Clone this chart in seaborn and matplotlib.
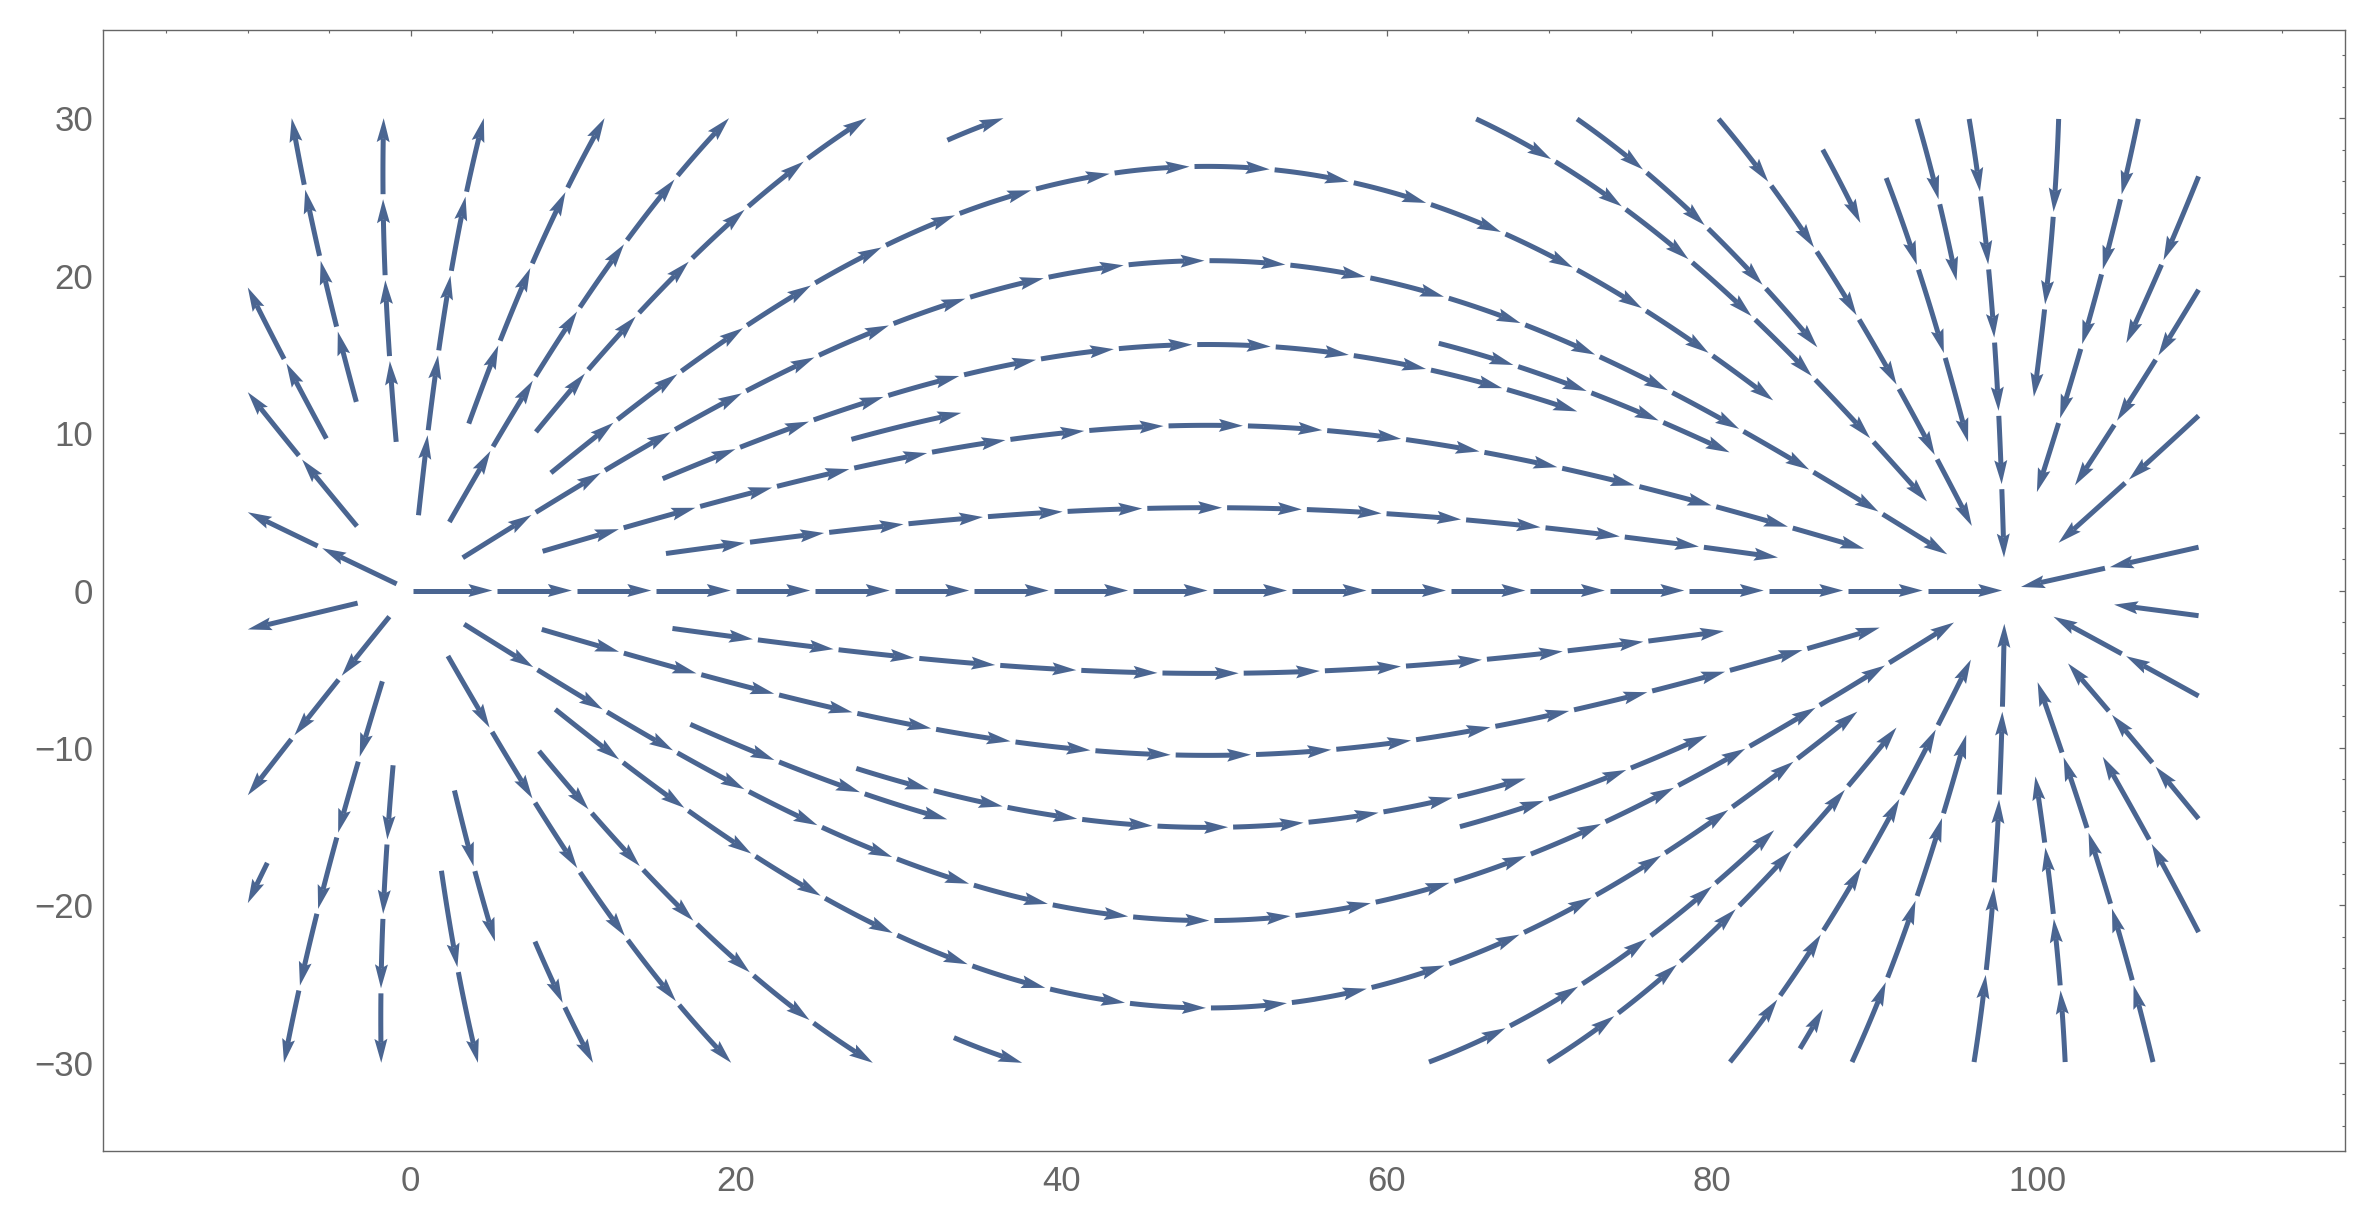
import numpy as np
import matplotlib
matplotlib.use("Agg")
import matplotlib.pyplot as plt
import seaborn as sns
from matplotlib.collections import LineCollection, PolyCollection

# ---------------- data ----------------
# point charges of the field (source at left, sink at right)
CHARGE_X = [0.0, 98.0]
CHARGE_Y = [0.0, 0.0]
CHARGE_Q = [1.0, -1.0]

# region in which stream lines live
REGION_X = (-10.0, 110.0)
REGION_Y = (-30.0, 30.0)

# stream lines: start point (tail) and end point (head); NaN head = runs to region edge
TAIL_X = [0.15, -0.85, -3.29, -5.17, -3.33, -0.88, 0.49, 3.58, 2.39, 7.71,
          3.21, 8.63, 8.12, 15.7, 15.5, 27.1, 33.0, 63.2,
          65.5, 71.7, 80.4, 86.8, 90.7, 92.6, 95.8, 101.3, 106.2,
          109.9, 109.9, 109.9, 109.9,
          -3.25, -1.3, -1.73, -8.8, -1.07, 2.3, 2.7, 1.9, 7.9, 7.65,
          8.9, 3.3, 8.07, 16.1, 17.2, 27.4, 33.4,
          64.5, 62.6, 69.9, 81.1, 85.4, 88.6, 96.1, 101.7, 107.1,
          109.9, 109.9, 109.9, 109.9]
TAIL_Y = [0.0, 0.42, 4.08, 9.65, 11.98, 9.44, 4.78, 10.6, 4.35, 10.07,
          2.08, 7.47, 2.49, 2.35, 7.1, 9.6, 28.6, 15.7,
          29.95, 29.95, 29.95, 28.0, 26.2, 29.95, 29.95, 29.95, 29.95,
          26.3, 19.1, 11.1, 2.75,
          -0.8, -1.66, -5.77, -17.3, -11.1, -4.16, -12.7, -17.8, -10.2, -22.3,
          -7.55, -2.14, -2.47, -2.41, -8.5, -11.3, -28.4,
          -15.0, -29.95, -29.95, -29.95, -29.1, -29.95, -29.95, -29.95, -29.95,
          -1.6, -6.7, -14.5, -21.7]
NAN = float("nan")
HEAD_X = [98.0, NAN, NAN, NAN, NAN, NAN, NAN, NAN, NAN, NAN,
          94.4, 84.1, 89.4, 84.1, 70.9, 33.5, NAN, 80.4,
          92.9, 86.4, 96.0, 88.8, 95.6, 95.1, 97.8, 99.8, 100.1,
          105.5, 102.4, 101.3, 99.0,
          NAN, NAN, NAN, NAN, NAN, NAN, 5.6, NAN, NAN, NAN,
          89.2, 95.0, 90.4, 80.8, 32.8, 68.1, NAN,
          79.0, 83.4, 91.6, 95.9, 86.1, 95.7, 97.8, 99.9, 100.1,
          104.7, 101.0, 101.9, 104.1]
HEAD_Y = [0.0, NAN, NAN, NAN, NAN, NAN, NAN, NAN, NAN, NAN,
          2.2, 12.5, 2.76, 2.55, 9.0, 13.0, NAN, 7.4,
          5.4, 15.4, 4.1, 23.2, 9.4, 19.7, 2.1, 12.3, 6.2,
          15.7, 6.6, 3.0, 0.2,
          NAN, NAN, NAN, NAN, NAN, NAN, -22.2, NAN, NAN, NAN,
          -8.0, -2.2, -2.65, -3.1, -15.2, -10.4, NAN,
          -7.7, -14.8, -8.9, -4.4, -26.2, -9.2, -2.1, -11.8, -5.8,
          -0.9, -1.66, -4.6, -10.5]

X_TICKS = [0, 20, 40, 60, 80, 100]
Y_TICKS = [-30, -20, -10, 0, 10, 20, 30]

# ---------------- style ----------------
W_PX, H_PX, DPI = 2368, 1215, 100
XLIM = (-18.9, 118.9)
YLIM = (-35.6, 35.6)
AX_RECT = [103 / W_PX, (H_PX - 1151) / H_PX, (2345 - 103) / W_PX, (1151 - 30) / H_PX]
LINE_COLOR = "#4a6591"
FRAME_COLOR = "#666666"
ARROW_PX = 80.0      # length of one arrow segment (pixels)
GAP_PX = 5.0
HEAD_LEN = 24.0
HEAD_HW = 6.5
NOTCH = 4.0
BODY_LW_PT = 3.6

sns.set_theme(style="white")
plt.rcParams["font.family"] = ["Liberation Sans", "DejaVu Sans"]

fig = plt.figure(figsize=(W_PX / DPI, H_PX / DPI), dpi=DPI)
ax = fig.add_axes(AX_RECT)
ax.set_xlim(*XLIM)
ax.set_ylim(*YLIM)

sx = AX_RECT[2] * W_PX / (XLIM[1] - XLIM[0])
sy = AX_RECT[3] * H_PX / (YLIM[1] - YLIM[0])

cx = np.array(CHARGE_X)
cy = np.array(CHARGE_Y)
cq = np.array(CHARGE_Q)


def direction(p):
    dx = p[0] - cx
    dy = p[1] - cy
    r3 = (dx * dx + dy * dy) ** 1.5
    e = np.array([np.sum(cq * dx / r3), np.sum(cq * dy / r3)])
    n = np.hypot(e[0], e[1])
    return e / n if n > 0 else e


def outside(q):
    return (q[0] < REGION_X[0] or q[0] > REGION_X[1] or
            q[1] < REGION_Y[0] or q[1] > REGION_Y[1])


def clip_to_region(p, q):
    t = 1.0
    for k, (lo, hi) in enumerate((REGION_X, REGION_Y)):
        d = q[k] - p[k]
        if q[k] < lo and d != 0:
            t = min(t, (lo - p[k]) / d)
        if q[k] > hi and d != 0:
            t = min(t, (hi - p[k]) / d)
    return p + t * (q - p)


def trace(x0, y0, hx, hy, h=0.04, nmax=12000):
    p = np.array([x0, y0], float)
    pts = [p.copy()]
    has_head = not (np.isnan(hx) or np.isnan(hy))
    head = np.array([hx, hy]) if has_head else None
    dmin = np.inf
    sinks = [(x, y) for x, y, q in zip(cx, cy, cq) if q < 0]
    for _ in range(nmax):
        k1 = direction(p)
        k2 = direction(p + 0.5 * h * k1)
        k3 = direction(p + 0.5 * h * k2)
        k4 = direction(p + h * k3)
        q = p + h / 6.0 * (k1 + 2 * k2 + 2 * k3 + k4)
        if outside(q):
            pts.append(clip_to_region(p, q))
            break
        if any(np.hypot(q[0] - sx_, q[1] - sy_) < 0.2 for sx_, sy_ in sinks):
            pts.append(q)
            break
        if has_head:
            d = np.hypot(*(q - head))
            if d < dmin:
                dmin = d
            elif dmin < 5.0:
                break
        pts.append(q)
        p = q
    return np.array(pts)


def to_px(pts):
    return np.column_stack([(pts[:, 0] - XLIM[0]) * sx, (pts[:, 1] - YLIM[0]) * sy])


def to_data(pts):
    pts = np.asarray(pts)
    return np.column_stack([pts[:, 0] / sx + XLIM[0], pts[:, 1] / sy + YLIM[0]])


bodies, heads = [], []
for x0, y0, hx, hy in zip(TAIL_X, TAIL_Y, HEAD_X, HEAD_Y):
    line = trace(x0, y0, hx, hy)
    if len(line) < 3:
        continue
    P = to_px(line)
    s = np.concatenate([[0], np.cumsum(np.hypot(*np.diff(P, axis=0).T))])
    total = s[-1]
    n = max(1, int(round(total / ARROW_PX)))
    L = total / n

    def at(v):
        return np.array([np.interp(v, s, P[:, 0]), np.interp(v, s, P[:, 1])])

    for k in range(n):
        a = k * L + (GAP_PX if k > 0 else 0.0)
        b = (k + 1) * L
        hl = min(HEAD_LEN, 0.8 * (b - a))
        tip = at(b)
        base = at(b - hl)
        u = tip - base
        nu = np.hypot(*u)
        if nu == 0:
            continue
        u /= nu
        nrm = np.array([-u[1], u[0]])
        body_end = b - hl + NOTCH
        if body_end > a:
            inner = s[(s > a) & (s < body_end)]
            seg = [at(a)] + [at(v) for v in inner] + [at(body_end)]
            bodies.append(to_data(seg))
        poly = [tip, base + nrm * HEAD_HW, base + u * NOTCH, base - nrm * HEAD_HW]
        heads.append(to_data(poly))

ax.add_collection(LineCollection(bodies, colors=LINE_COLOR, linewidths=BODY_LW_PT,
                                 capstyle="butt", joinstyle="round", zorder=2))
ax.add_collection(PolyCollection(heads, facecolors=LINE_COLOR, edgecolors="none", zorder=3))

# ---------------- axes / frame ----------------
ax.set_xticks(X_TICKS)
ax.set_xticks(np.arange(-15, 120, 5), minor=True)
ax.set_yticks(Y_TICKS)
ax.set_yticks(np.arange(-34, 36, 2), minor=True)
ax.set_xticklabels([str(v) for v in X_TICKS])
ax.set_yticklabels([str(v).replace("-", "\u2212") for v in Y_TICKS])
ax.tick_params(which="both", direction="in", top=True, right=True,
               color=FRAME_COLOR, labelcolor=FRAME_COLOR)
ax.tick_params(which="major", length=4.2, width=0.9, labelsize=25)
ax.tick_params(which="minor", length=2.4, width=0.8)
ax.tick_params(axis="x", which="major", pad=10)
ax.tick_params(axis="y", which="major", pad=7)
for sp in ax.spines.values():
    sp.set_color(FRAME_COLOR)
    sp.set_linewidth(1.0)
ax.grid(False)
ax.set_facecolor("white")
fig.patch.set_facecolor("white")

fig.savefig("out.png", dpi=DPI)
